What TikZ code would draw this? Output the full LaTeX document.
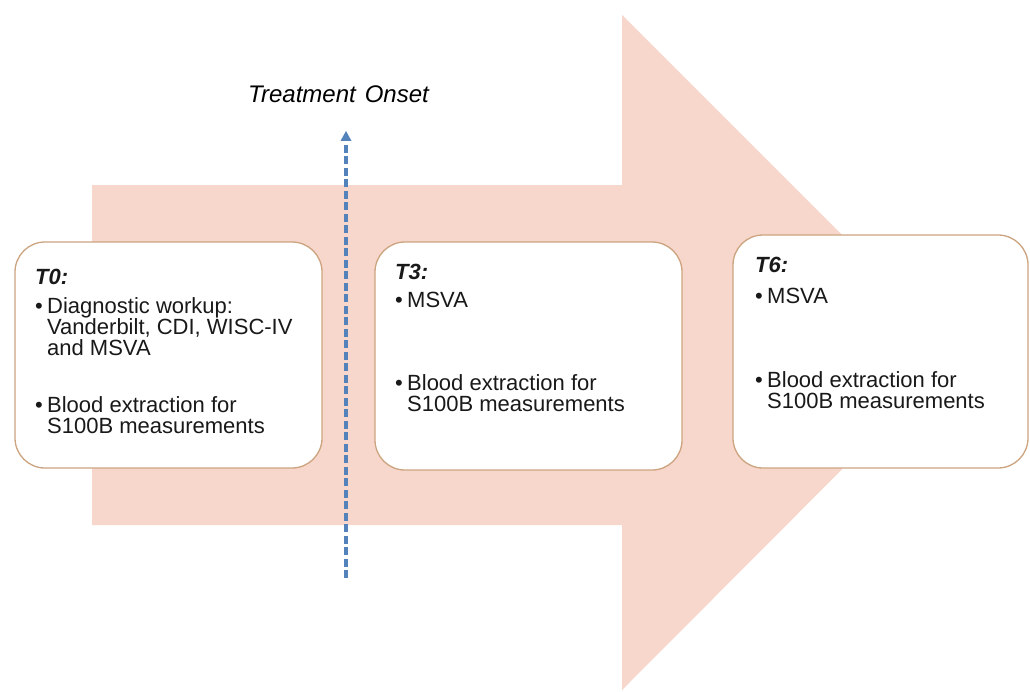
\documentclass[tikz,border=0pt]{standalone}
\usepackage{fontspec}
\setmainfont{Liberation Sans}
\usetikzlibrary{arrows.meta, positioning}
\definecolor{arrowpink}{RGB}{247,214,203}
\definecolor{boxtan}{RGB}{204,164,128}
\definecolor{onsetblue}{RGB}{84,130,186}
\newcommand{\bul}{\makebox[12pt][l]{\textbullet}}
\newcommand{\ind}{\hspace*{12pt}}

\begin{document}
\begin{tikzpicture}[
    x=1pt, y=-1pt,
    phase/.style={rectangle, draw=boxtan, fill=white, line width=1.3pt, rounded corners=30pt, inner sep=0pt},
    phasetext/.style={anchor=north west, inner sep=0pt, align=left, text=black!90, font=\fontsize{22}{21}\selectfont},
    onsetline/.style={-{Triangle[length=10pt,width=10pt]}, draw=onsetblue, line width=3.2pt, dash pattern=on 8pt off 3.5pt}
]
    \useasboundingbox (0,0) rectangle (1030,691);
    % big timeline arrow
    \fill[arrowpink] (92,185) -- (622,185) -- (622,15) -- (959,352) -- (622,690) -- (622,525) -- (92,525) -- cycle;

    % treatment onset marker
    \node[font=\fontsize{24}{26}\selectfont\itshape, anchor=base] (onset) at (338.5,102) {Treatment\hspace{9pt}Onset};
    \coordinate (onsetfoot) at (346,578);
    \draw[onsetline, shorten >=25pt] (onsetfoot) -- (onsetfoot |- onset.south);

    % time points
    \node[phase, minimum width=307pt, minimum height=226pt] (t0) at (168.5,355) {};
    \node[phase, minimum width=307pt, minimum height=228pt] (t3) at (528.5,356) {};
    \node[phase, minimum width=295pt, minimum height=233pt] (t6) at (880.5,351.5) {};

    \node[phasetext] (t0text) at (35,269) {\textbf{\textit{T0:}}\\[8pt]
        \bul Diagnostic workup:\\
        \ind Vanderbilt, CDI, WISC-IV\\
        \ind and MSVA\\[36pt]
        \bul Blood extraction for\\
        \ind S100B measurements};
    \node[phasetext] (t3text) at (395,264) {\textbf{\textit{T3:}}\\[7pt]
        \bul MSVA\\[62pt]
        \bul Blood extraction for\\
        \ind S100B measurements};
    \node[phasetext] (t6text) at (755,257) {\textbf{\textit{T6:}}\\[10pt]
        \bul MSVA\\[63pt]
        \bul Blood extraction for\\
        \ind S100B measurements};
\end{tikzpicture}
\end{document}
